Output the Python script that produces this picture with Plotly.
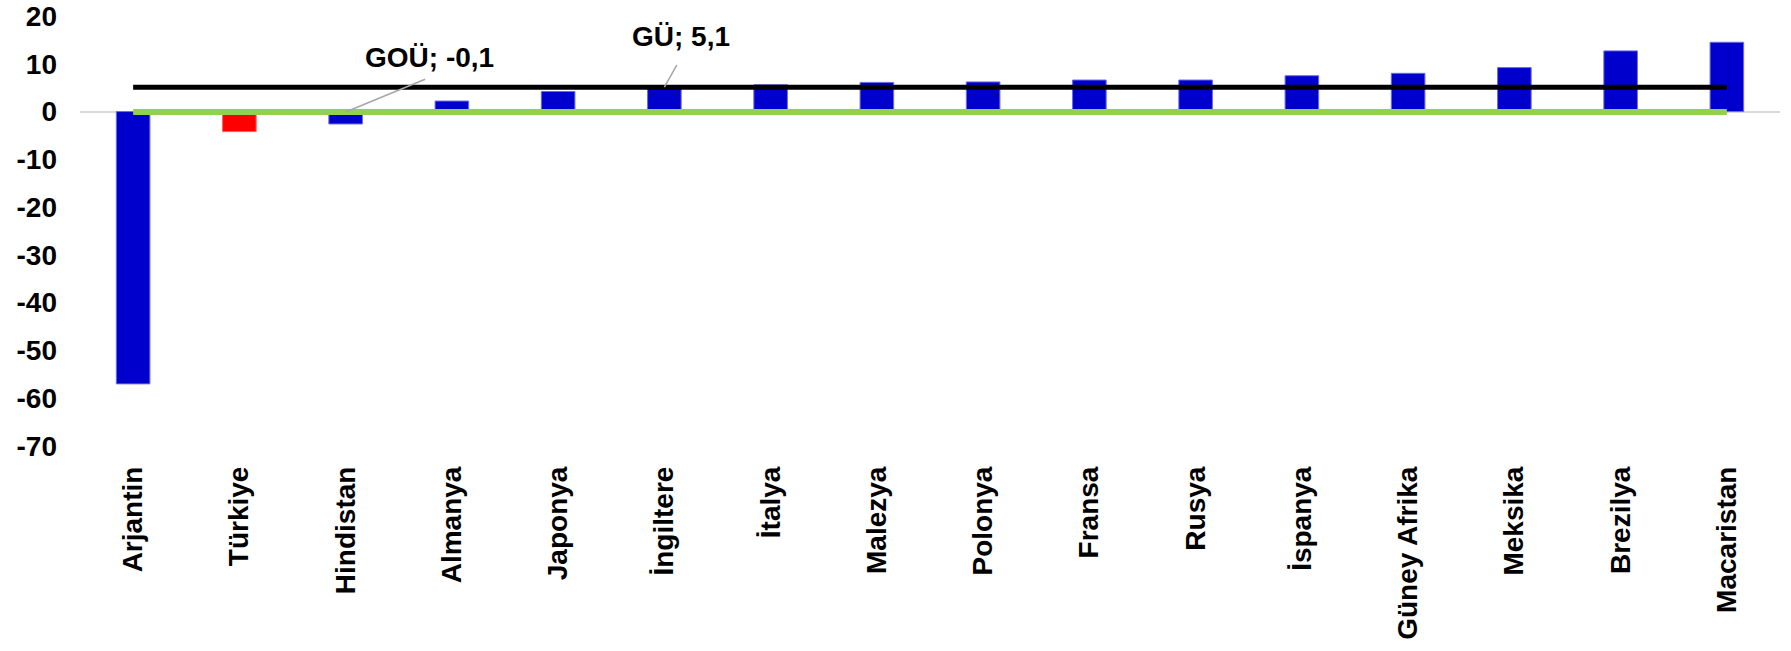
import plotly.graph_objects as go

categories = ["Arjantin", "Türkiye", "Hindistan", "Almanya", "Japonya", "İngiltere", "İtalya",
              "Malezya", "Polonya", "Fransa", "Rusya", "İspanya", "Güney Afrika", "Meksika",
              "Brezilya", "Macaristan"]
values = [-57.0, -4.2, -2.6, 2.2, 4.2, 5.0, 5.6, 6.1, 6.2, 6.6, 6.6, 7.5, 8.0, 9.2, 12.7, 14.5]
highlight = "Türkiye"

gu_value = 5.1      # GÜ (gelişmiş ülkeler) ortalaması
gou_value = -0.1    # GOÜ (gelişmekte olan ülkeler) ortalaması
gu_anchor = "İngiltere"
gou_anchor = "Hindistan"

y_tickvals = [20, 10, 0, -10, -20, -30, -40, -50, -60, -70]
y_ticktext = ["20", "10", "0", "-10", "-20", "-30", "-40", "-50", "-60", "-70"]

FONT = "Liberation Sans, Arial, sans-serif"
BLUE = "#0000CC"
RED = "#FF0000"

bar_colors = [RED if c == highlight else BLUE for c in categories]
bar_line_colors = ["#FF6060" if c == highlight else "#6A6AE6" for c in categories]

fig = go.Figure()
fig.add_trace(go.Bar(
    x=categories, y=values,
    marker=dict(color=bar_colors, line=dict(color=bar_line_colors, width=1)),
    width=0.316, showlegend=False, hoverinfo="x+y",
))
fig.add_trace(go.Scatter(
    x=categories, y=[gou_value] * len(categories), mode="lines",
    line=dict(color="#92D050", width=6), showlegend=False,
))
fig.add_trace(go.Scatter(
    x=categories, y=[gu_value] * len(categories), mode="lines",
    line=dict(color="#000000", width=5), showlegend=False,
))

def fmt(v):
    return f"{v:.1f}".replace(".", ",")

ann_font = dict(family=FONT, size=28, color="#000000", weight="bold")
annotations = [
    dict(x=gou_anchor, y=gou_value, xref="x", yref="y", text=" ", showarrow=True,
         arrowhead=0, arrowwidth=1.5, arrowcolor="#A6A6A6", ax=85, ay=-35, standoff=0),
    dict(x=gou_anchor, y=gou_value, xref="x", yref="y", text=f"GOÜ; {fmt(gou_value)}",
         showarrow=False, xshift=84, yshift=55, font=ann_font),
    dict(x=gu_anchor, y=gu_value, xref="x", yref="y", text=" ", showarrow=True,
         arrowhead=0, arrowwidth=1.5, arrowcolor="#A6A6A6", ax=18, ay=-32, standoff=0),
    dict(x=gu_anchor, y=gu_value, xref="x", yref="y", text=f"GÜ; {fmt(gu_value)}",
         showarrow=False, xshift=17, yshift=51, font=ann_font),
]

fig.update_layout(
    width=1791, height=651,
    margin=dict(l=80, r=11, t=16, b=205, autoexpand=False),
    paper_bgcolor="white", plot_bgcolor="white",
    font=dict(family=FONT, size=28, color="#000000"),
    annotations=annotations,
    bargap=0.684,
)
fig.update_xaxes(
    type="category", range=[-0.5, len(categories) - 0.5],
    tickangle=-90, ticks="", showline=False, showgrid=False, zeroline=False,
    tickfont=dict(family=FONT, size=28, color="#000000", weight="bold"),
    ticklabelstandoff=14, automargin=False,
)
fig.update_yaxes(
    range=[-70, 20], tickvals=y_tickvals, ticktext=y_ticktext,
    ticks="", showline=False, showgrid=False,
    zeroline=True, zerolinecolor="#D9D9D9", zerolinewidth=1.5,
    tickfont=dict(family=FONT, size=28, color="#000000", weight="bold"),
    ticklabelstandoff=22, automargin=False,
)

fig.write_html(
    "out.html",
    config={"displayModeBar": False},
    post_script="document.body.style.margin='0';document.body.style.overflow='hidden';",
)
